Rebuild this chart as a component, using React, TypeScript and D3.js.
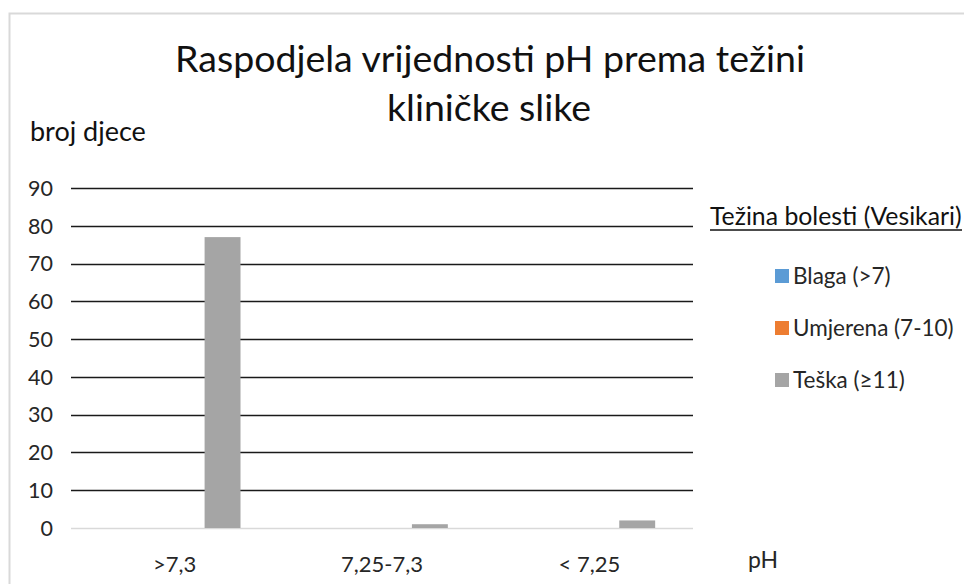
import React from "react";
import * as d3 from "d3";

const categories = [">7,3", "7,25-7,3", "< 7,25"];
const seriesNames = ["Blaga (>7)", "Umjerena (7-10)", "Teška (≥11)"];
const seriesColors = ["#5B9BD5", "#ED7D31", "#A5A5A5"];
const blaga = [0, 0, 0];
const umjerena = [0, 0, 0];
const teska = [77, 1, 2];
const yTicks = [0, 10, 20, 30, 40, 50, 60, 70, 80, 90];

const seriesValues = [blaga, umjerena, teska];
const FONT = "Lato, 'Open Sans', sans-serif";

export default function App() {
  const W = 964;
  const H = 584;
  const y = d3.scaleLinear().domain([0, 90]).range([528, 188]);
  const x0 = d3.scaleBand<string>().domain(categories).range([71, 693]);
  const x1 = d3
    .scaleBand<string>()
    .domain(seriesNames)
    .range([0, x0.bandwidth()])
    .paddingInner(0.25)
    .paddingOuter(0.79);
  const [gx0, gx1] = x0.range();

  return (
    <svg
      width={W}
      height={H}
      style={{ position: "absolute", left: 0, top: 0, background: "#fff" }}
      fontFamily={FONT}
    >
      <rect x={0} y={0} width={W} height={H} fill="#fff" />
      <rect x={9.5} y={13.5} width={W + 20} height={H + 20} fill="#fff" stroke="#d9d9d9" strokeWidth={2} />

      <text x={490} y={72} textAnchor="middle" fontSize={37.5} fill="#111">
        Raspodjela vrijednosti pH prema težini
      </text>
      <text x={489} y={121} textAnchor="middle" fontSize={37.5} fill="#111">
        kliničke slike
      </text>

      <text x={30} y={141} fontSize={27} fill="#111">broj djece</text>

      {yTicks.map((t) => (
        <g key={t}>
          <line
            x1={gx0}
            x2={gx1}
            y1={Math.round(y(t)) + 0.5}
            y2={Math.round(y(t)) + 0.5}
            stroke={t === 0 ? "#d9d9d9" : "#1a1a1a"}
            strokeWidth={t === 0 ? 1.5 : 1.4}
          />
          <text x={53} y={y(t)} dy="0.36em" textAnchor="end" fontSize={21.5} fill="#262626">
            {t}
          </text>
        </g>
      ))}

      {categories.map((c, ci) => (
        <g key={c} transform={`translate(${x0(c)},0)`}>
          {seriesNames.map((s, si) => {
            const v = seriesValues[si][ci];
            if (!v) return null;
            return (
              <rect
                key={s}
                x={x1(s)}
                y={y(v)}
                width={x1.bandwidth()}
                height={y(0) - y(v)}
                fill={seriesColors[si]}
              />
            );
          })}
          <text
            x={x0.bandwidth() / 2}
            y={572}
            textAnchor="middle"
            fontSize={22}
            fill="#262626"
          >
            {c}
          </text>
        </g>
      ))}

      <text x={748} y={568} fontSize={23} fill="#262626">pH</text>

      <text x={710} y={225} fontSize={24.8} fill="#111">
        Težina bolesti (Vesikari)
      </text>
      <line x1={710} x2={962} y1={230} y2={230} stroke="#111" strokeWidth={1.5} />

      {seriesNames.map((s, i) => (
        <g key={s} transform={`translate(775,${276 + i * 52})`}>
          <rect x={0} y={-7} width={14} height={14} fill={seriesColors[i]} />
          <text x={18} y={0} dy="0.36em" fontSize={22.5} fill="#262626">
            {s}
          </text>
        </g>
      ))}
    </svg>
  );
}
